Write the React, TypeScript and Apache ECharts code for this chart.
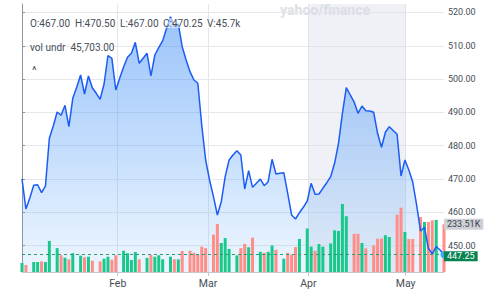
import React, { useEffect, useRef } from "react";
import * as echarts from "echarts";

const prices = [
  470.0, 460.97, 464.28, 468.09, 468.27, 465.87, 467.88, 482.21, 485.9, 490.11,
  489.12, 492.12, 485.7, 494.23, 497.53, 501.23, 495.52, 500.93, 497.41, 495.73,
  493.93, 498.52, 507.08, 506.24, 496.72, 500.23, 503.63, 506.54, 507.74, 511.05,
  504.74, 506.24, 507.74, 500.93, 507.23, 509.43, 511.53, 515.25, 518.74, 515.73,
  516.55, 509.73, 505.73, 502.22, 499.72, 498.73, 486.21, 475.69, 469.68, 464.67,
  459.17, 463.17, 470.68, 475.69, 477.19, 478.49, 477.19, 466.98, 472.48, 467.49,
  468.69, 469.98, 467.97, 469.17, 475.9, 471.49, 471.7, 471.88, 465.69, 459.17,
  457.97, 459.86, 461.48, 463.38, 468.69, 465.39, 465.48, 467.19, 468.87, 470.68,
  474.7, 480.71, 489.72, 497.41, 495.22, 493.11, 489.72, 491.91, 490.5, 490.41,
  490.02, 483.71, 479.54, 484.04, 485.7, 484.55, 483.41, 470.89, 475.69, 472.69,
  469.08, 462.17, 454.36, 455.48, 449.17, 447.46, 449.65, 448.66, 447.25,
];

// volume in thousands; null = no bar
const volumes = [
  44, 34, null, 49, 49, 52, 49, 152, null, 117,
  82, 70, 62, 92, null, 80, 72, 75, 55, null,
  52, 65, 75, 60, 82, null, 104, 92, 59, 98,
  62, null, 69, 83, 75, 82, 62, null, 75, 62,
  62, 103, null, 104, 94, 85, 124, 117, null, 183,
  235, 142, 166, 113, null, 81, 117, 138, 121, 168,
  null, 99, 94, 99, 130, 109, null, 65, 94, 85,
  122, 162, null, 213, 124, 104, 137, 124, null, 140,
  204, 201, 333, 273, null, 187, 187, 142, 116, null,
  130, 163, 164, 180, 171, null, 280, 315, 196, 162,
  162, null, 269, 245, 245, 253, 255, null, 233.51,
];

// g = up (green), r = down (red)
const volumeDirections =
  "gr-ggrgg-g" + "rgrg-grgr-" + "rggrr-gggg" + "r-grggg-gr" + "gr-rrrrr-r" +
  "rggg-grrgr" + "-grggr-grr" + "rg-ggrgg-g" + "gggg-rrgr-" + "rrrgg-rrgr" + "r-rgrrg-r";

const monthLabels = ["Feb", "Mar", "Apr", "May"];
const monthPositions = [24.5, 47.6, 73.3, 98.2];
const highlightRange = [73.3, 98.2];
const priceMin = 442.05;
const priceMax = 522.55;
const volumeMax = 1312;
const lastPrice = 447.25;
const lastVolume = 233.51;
const ohlcLabels = ["O:467.00", "H:470.50", "L:467.00", "C:470.25", "V:45.7k"];
const studyName = "vol undr";
const studyValue = "45,703.00";

export default function App() {
  const ref = useRef<HTMLDivElement>(null);
  useEffect(() => {
    document.body.style.margin = "0";
    const chart = echarts.init(ref.current!, null, { renderer: "svg" });
    const font = "Roboto, 'Helvetica Neue', Arial, sans-serif";
    const textColor = "#464e56";
    const n = prices.length;
    const linePts = prices.map((p, i) => [i, p]);
    const barData: any[] = [];
    volumes.forEach((v, i) => {
      if (v == null) return;
      barData.push({
        value: [i, v],
        itemStyle: { color: volumeDirections[i] === "g" ? "#19c98b" : "#ff8e89" },
      });
    });
    const ohlcX = [30, 75, 120, 163, 207];

    chart.setOption({
      animation: false,
      grid: { left: 22, right: 45, top: 4, bottom: 19 },
      xAxis: {
        type: "value",
        min: 0,
        max: n - 1,
        axisLine: { show: true, lineStyle: { color: "#c3c7ce" } },
        axisTick: { show: true, customValues: monthPositions, length: 4, lineStyle: { color: "#c3c7ce" } },
        axisLabel: {
          customValues: monthPositions,
          formatter: (v: number) => {
            let best = 0;
            monthPositions.forEach((p, k) => {
              if (Math.abs(p - v) < Math.abs(monthPositions[best] - v)) best = k;
            });
            return monthLabels[best];
          },
          color: textColor,
          fontSize: 10.5,
          fontFamily: font,
          margin: 6,
        },
        splitLine: { show: true, lineStyle: { color: "#e3e6eb" } },
      },
      yAxis: [
        {
          type: "value",
          position: "right",
          min: priceMin,
          max: priceMax,
          splitNumber: 8,
          axisLine: { show: true, lineStyle: { color: "#8e939b" } },
          axisTick: { show: true, length: 3, lineStyle: { color: "#8e939b" } },
          axisLabel: {
            showMinLabel: false,
            showMaxLabel: false,
            formatter: (v: number) => v.toFixed(2),
            color: textColor,
            fontSize: 9,
            lineHeight: 8,
            fontFamily: font,
            margin: 4,
          },
          splitLine: { show: true, showMinLine: false, showMaxLine: false, lineStyle: { color: "#e6e8ec" } },
        },
        { type: "value", min: 0, max: volumeMax, show: false },
      ],
      series: [
        {
          type: "line",
          data: [[0, priceMin]],
          symbol: "none",
          lineStyle: { opacity: 0 },
          silent: true,
          z: 0,
          markArea: {
            silent: true,
            itemStyle: { color: "rgba(214,220,232,0.4)" },
            data: [[{ xAxis: highlightRange[0] }, { xAxis: highlightRange[1] }]],
          },
        },
        {
          type: "line",
          data: linePts,
          symbol: "none",
          lineStyle: { width: 0, opacity: 0 },
          areaStyle: {
            origin: "start",
            color: new echarts.graphic.LinearGradient(0, 0, 0, 1, [
              { offset: 0, color: "rgba(40,125,246,0.66)" },
              { offset: 0.5, color: "rgba(70,150,248,0.47)" },
              { offset: 1, color: "rgba(120,182,250,0.2)" },
            ]),
          },
          silent: true,
          z: 1,
        },
        {
          type: "bar",
          yAxisIndex: 1,
          data: barData,
          barWidth: 3,
          z: 2,
          silent: true,
          markLine: {
            symbol: "none",
            silent: true,
            lineStyle: { color: "rgba(0,0,0,0)", width: 0 },
            label: {
              show: true,
              position: "end",
              distance: 0,
              formatter: lastVolume.toFixed(2) + "K",
              backgroundColor: "#cdd0d7",
              color: "#3b4149",
              padding: [1, 3, 0, 3],
              lineHeight: 10,
              fontSize: 9,
              fontFamily: font,
            },
            data: [{ yAxis: lastVolume }],
          },
        },
        {
          type: "line",
          data: linePts,
          symbol: "none",
          lineStyle: { color: "#1b5cf5", width: 1.5 },
          z: 3,
          silent: true,
          markLine: {
            symbol: "none",
            silent: true,
            lineStyle: { color: "#2a9e70", type: [3, 3], width: 1 },
            label: {
              position: "end",
              distance: 0,
              offset: [0, 1.5],
              formatter: lastPrice.toFixed(2),
              backgroundColor: "#078350",
              color: "#ffffff",
              padding: [0, 3, 0, 3],
              lineHeight: 10,
              fontSize: 9,
              fontFamily: font,
            },
            data: [{ yAxis: lastPrice }],
          },
          markPoint: {
            symbol: "circle",
            symbolSize: 7,
            silent: true,
            itemStyle: { color: "#3aa8f4" },
            label: { show: false },
            data: [{ coord: [n - 1, lastPrice] }],
          },
        },
      ],
      graphic: [
        {
          type: "text",
          x: 280,
          y: 10,
          silent: true,
          style: {
            text: "yahoo/finance",
            fill: "#dde1e7",
            font: `800 14px ${font}`,
            verticalAlign: "middle",
          },
        },
        ...ohlcLabels.map((t, k) => ({
          type: "text",
          x: ohlcX[k],
          y: 23,
          silent: true,
          z: 10,
          style: {
            text: t,
            fill: textColor,
            font: `10px ${font}`,
            verticalAlign: "middle",
            backgroundColor: "rgba(255,255,255,0.55)",
          },
        })),
        {
          type: "text",
          x: 30,
          y: 47,
          silent: true,
          z: 10,
          style: { text: studyName, fill: textColor, font: `10px ${font}`, verticalAlign: "middle" },
        },
        {
          type: "text",
          x: 70.5,
          y: 47,
          silent: true,
          z: 10,
          style: {
            text: studyValue,
            fill: textColor,
            font: `10px ${font}`,
            verticalAlign: "middle",
            backgroundColor: "rgba(255,255,255,0.55)",
          },
        },
        {
          type: "text",
          x: 32,
          y: 70,
          silent: true,
          z: 10,
          style: { text: "^", fill: textColor, font: `11px ${font}`, verticalAlign: "middle" },
        },
      ],
    });
    return () => chart.dispose();
  }, []);
  return <div ref={ref} style={{ width: 489, height: 291 }} />;
}
